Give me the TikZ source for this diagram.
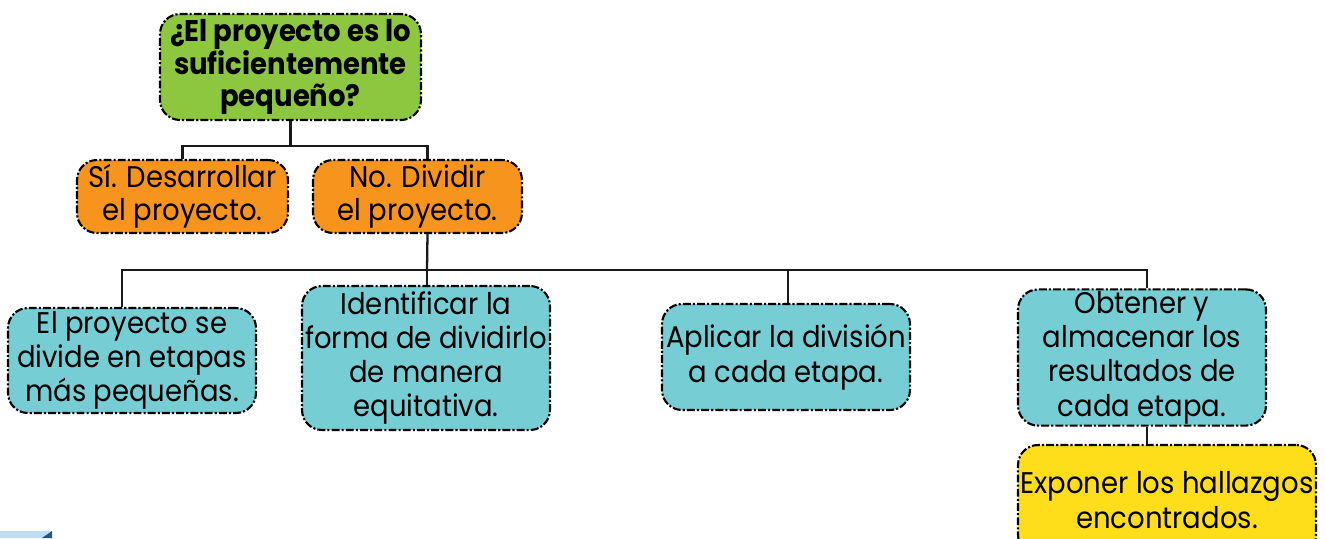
\documentclass[tikz,border=0pt]{standalone}
\usepackage{fontspec}
\setmainfont{Poppins}[FakeStretch=0.92]
\definecolor{askgreen}{RGB}{141,198,63}
\definecolor{answerorange}{RGB}{247,148,29}
\definecolor{stepblue}{RGB}{118,205,212}
\definecolor{resultyellow}{RGB}{254,221,26}
\definecolor{cornerlight}{RGB}{190,221,242}
\definecolor{cornerdark}{RGB}{31,90,133}

\begin{document}
\begin{tikzpicture}[x=0.02cm, y=-0.02cm]
    \tikzstyle{box}=[rectangle, rounded corners=0.4cm, draw=black, line width=1.2pt,
        dash pattern=on 4.5pt off 1.2pt on 1.2pt off 1.2pt, align=center, inner sep=1pt,
        font=\fontsize{17}{19.5}\selectfont]
    \tikzstyle{question}=[box, fill=askgreen, font=\bfseries\fontsize{17}{18.5}\selectfont]
    \tikzstyle{answer}=[box, fill=answerorange, font=\fontsize{17}{18.8}\selectfont]
    \tikzstyle{stage}=[box, fill=stepblue, minimum width=4.96cm]
    \tikzstyle{result}=[box, fill=resultyellow]
    \tikzstyle{link}=[draw=black!90, line width=1.3pt]

    \clip (0,0) rectangle (1325,538);

    % Draw the question and the two answers
    \node[question, minimum width=5.22cm, minimum height=2.12cm] (top) at (290.5,67)
        {¿El proyecto es lo\\suficientemente\\pequeño?};
    \node[answer, minimum width=4.22cm, minimum height=1.46cm] (yes) at (182.5,196.5)
        {Sí. Desarrollar\\el proyecto.};
    \node[answer, minimum width=4.18cm, minimum height=1.46cm] (no) at (417.5,196.5)
        {No. Dividir\\el proyecto.};

    % Draw the stages
    \node[stage, minimum height=2.1cm] (s1) at (132,360.5)
        {El proyecto se\\divide en etapas\\más pequeñas.};
    \node[stage, minimum height=2.88cm] (s2) at (426,358)
        {Identificar la\\forma de dividirlo\\de manera\\equitativa.};
    \node[stage, minimum height=2.12cm] (s3) at (786,357)
        {Aplicar la división\\a cada etapa.};
    \node[stage, minimum height=2.7cm] (s4) at (1142,357.5)
        {Obtener y\\almacenar los\\resultados de\\cada etapa.};
    \node[result, minimum width=5.96cm, minimum height=2.2cm] (show) at (1167,500)
        {Exponer los hallazgos\\encontrados.};

    % Connect them
    \draw[link] (top.south) -- ++(0,25) -| (yes.north);
    \draw[link] (top.south) ++(0,25) -| ([xshift=0.2cm]no.north);
    \coordinate (split) at (427,270);
    \draw[link] ([xshift=0.2cm]no.south) -- (split);
    \foreach \name/\dx in {s1/-0.2, s2/0.02, s3/0.04, s4/0.1}
        \draw[link] (split) -| ([xshift=\dx cm]\name.north);
    \draw[link] ([xshift=0.1cm]s4.south) -- ([xshift=0.1cm]s4.south |- show.north);

    % corner strip
    \fill[cornerlight] (0,531) rectangle (52,538);
    \fill[cornerdark] (42,538) -- (52,531) -- (52,538) -- cycle;
\end{tikzpicture}
\end{document}
